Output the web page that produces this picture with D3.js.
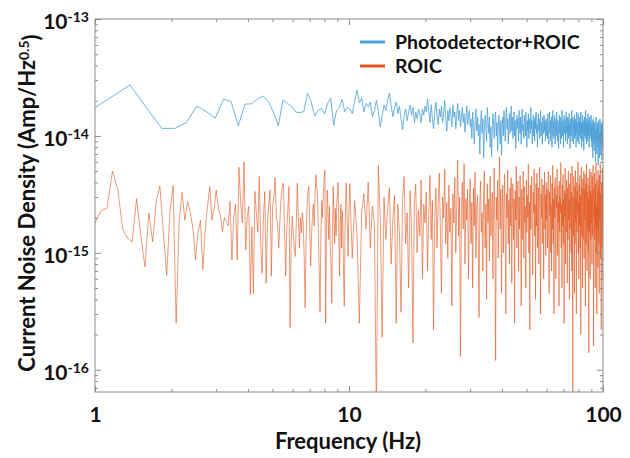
<!DOCTYPE html>
<meta charset="utf-8">
<script src="https://d3js.org/d3.v7.min.js"></script>
<style>
body { margin: 0; background: #fff; }
text { font-family: Lato, "Open Sans", sans-serif; font-weight: bold; fill: #111; }
</style>
<div id="chart"></div>
<script>
// noise density in fA/Hz^0.5 (1 fA = 1e-15 A)
// Photodetector+ROIC, FFT bins of 0.229 Hz starting at 0.916 Hz
var pdStart = 0.916, pdStep = 0.229;
var pdNoise = [
  15.4, 21.1, 27.3, 17.1, 11.6, 11.6, 13.0, 18.0, 16.1, 14.2,
  20.6, 19.7, 12.2, 18.7, 18.8, 20.5, 22.0, 19.7, 16.0, 12.2,
  20.3, 19.0, 17.8, 16.0, 15.8, 16.2, 23.2, 19.5, 14.8, 16.5,
  17.2, 15.5, 19.0, 21.0, 12.4, 16.5, 17.5, 20.6, 16.1, 17.5,
  17.0, 15.5, 20.0, 24.7, 19.2, 21.1, 16.0, 19.0, 17.7, 19.5,
  14.6, 16.5, 20.3, 16.0, 11.9, 15.0, 18.4, 16.5, 20.0, 23.3,
  18.0, 14.6, 17.5, 19.5, 15.5, 18.0, 14.0, 11.3, 15.0, 17.0,
  13.5, 16.0, 18.4, 15.0, 17.5, 13.0, 16.0, 14.0, 17.0, 15.5,
  13.0, 17.0, 15.0, 18.0, 16.0, 20.7,
  // 20 - 30 Hz
  16.5, 13.0, 18.5, 14.0, 11.5, 16.0, 19.5, 15.0, 12.5, 17.0,
  14.5, 18.0, 13.0, 15.5, 20.0, 14.0, 11.0, 16.5, 13.5, 17.5,
  15.0, 12.0, 18.5, 14.5, 16.0, 11.5, 15.0, 19.0, 13.5, 16.5,
  12.0, 14.5, 17.5, 13.0, 15.5, 10.8, 14.0, 18.0, 12.5, 15.0,
  16.5, 12.0,
  // 30 - 40 Hz
  14.0, 9.5, 16.0, 12.0, 8.5, 13.5, 17.0, 11.0, 14.5, 10.0,
  12.5, 7.0, 13.0, 16.5, 10.5, 14.0, 6.5, 11.5, 15.0, 12.0,
  9.0, 17.5, 13.0, 10.5, 14.5, 8.0, 12.0, 6.6, 11.0, 15.5,
  12.5, 9.5, 14.0, 16.0, 10.0, 13.0, 7.5, 12.0, 15.0, 11.0,
  8.5, 13.5, 6.8, 12.0,
  // 40 - 60 Hz
  14.5, 10.0, 16.5, 12.0, 9.0, 13.5, 17.5, 11.5, 14.0, 8.5,
  12.5, 15.5, 10.5, 13.0, 18.0, 11.0, 14.5, 9.5, 12.0, 16.0,
  10.0, 13.5, 7.8, 12.5, 15.0, 11.5, 14.0, 9.0, 16.5, 12.0,
  10.5, 14.5, 8.5, 13.0, 17.0, 11.0, 12.5, 9.5, 15.0, 13.0,
  10.0, 16.0, 12.0, 8.0, 13.5, 11.0, 15.5, 9.5, 14.0, 12.5,
  10.5, 17.5, 11.5, 13.5, 8.5, 12.0, 15.0, 10.0, 13.5, 9.0,
  14.5, 11.5, 16.0, 10.5, 12.5, 8.0, 13.0, 15.5, 11.0, 14.0,
  9.5, 12.0, 16.5, 10.0, 13.0, 11.5, 8.5, 14.5, 12.0, 10.5,
  15.0, 11.0, 13.5, 9.0, 12.5, 14.0, 10.0,
  // 60 - 90 Hz
  13.0, 9.5, 15.5, 11.0, 8.5, 12.5, 16.0, 10.5, 13.5, 9.0,
  11.5, 14.5, 8.0, 12.0, 16.5, 10.0, 13.0, 9.5, 15.0, 11.5,
  8.5, 12.5, 14.0, 10.0, 16.0, 11.0, 9.0, 13.5, 12.0, 7.8,
  11.5, 15.0, 10.5, 13.0, 8.5, 14.5, 11.0, 9.5, 16.5, 12.0,
  10.0, 13.5, 8.0, 12.5, 15.0, 10.5, 11.5, 14.0, 9.0, 13.0,
  16.0, 10.5, 12.0, 8.5, 14.5, 11.0, 13.5, 9.5, 15.5, 10.0,
  12.5, 7.8, 11.5, 14.0, 10.0, 13.0, 16.5, 9.0, 12.0, 14.5,
  10.5, 8.5, 13.5, 11.0, 15.0, 9.5, 12.5, 10.0, 14.0, 8.0,
  11.5, 16.0, 10.5, 13.0, 9.0, 12.0, 15.5, 11.0, 8.5, 13.5,
  10.0, 14.5, 12.0, 9.5, 16.0, 11.0, 13.0, 8.0, 12.5, 10.5,
  15.0, 9.0, 13.5, 11.5, 7.5, 12.0, 14.5, 10.0, 13.0, 9.5,
  16.5, 11.0, 12.5, 8.5, 14.0, 10.5, 13.0, 9.0, 15.5, 11.5,
  10.0, 13.5, 8.0, 12.0, 14.5, 9.5, 11.0, 13.0, 10.5, 15.0,
  9.0,
  // 90 - 100 Hz
  12.0, 8.0, 13.5, 10.0, 6.5, 11.5, 14.0, 9.0, 12.5, 7.5,
  10.5, 13.0, 8.5, 11.0, 6.0, 12.0, 14.5, 9.5, 11.5, 7.0,
  13.0, 10.0, 8.0, 12.5, 5.6, 11.0, 13.5, 9.0, 10.5, 6.5,
  12.0, 14.0, 8.5, 11.0, 7.0, 12.5, 9.5, 13.0, 6.2, 10.5,
  12.0, 8.0, 11.5, 13.5, 9.0, 10.5, 7.5
];

// ROIC alone, fine bins below 10 Hz
var roicLowStart = 1.0, roicLowStep = 0.0572;
var roicLow = [
  1.80, 2.30, 2.40, 5.0, 3.5, 1.6, 1.33, 1.24, 2.9, 1.4,
  0.76, 2.2, 1.24, 2.8, 3.74, 1.5, 0.64, 2.2, 3.74, 0.25,
  1.8, 3.3, 1.9, 2.75, 2.2, 1.6, 0.87, 1.5, 1.9, 0.72,
  1.57, 2.5, 3.7, 1.9, 2.4, 3.45, 2.4, 2.1, 1.52, 2.0,
  1.85, 1.7, 2.75, 0.87, 2.0, 2.6, 0.87, 5.4, 2.7, 1.8,
  6.0, 1.06, 2.0, 2.5, 0.44, 1.67, 0.45, 3.35, 2.2, 1.5,
  4.5, 1.2, 0.67, 2.0, 3.35, 0.55, 1.8, 2.6, 3.45, 0.63,
  2.5, 3.0, 4.4, 2.0, 1.8, 1.1, 1.9, 3.0, 3.7, 3.95,
  1.5, 0.63, 1.6, 2.4, 3.7, 0.23, 1.2, 2.05, 1.5, 1.1,
  0.93, 1.9, 3.95, 2.0, 1.1, 2.0, 1.48, 2.2, 1.8, 0.9,
  0.34, 1.3, 2.5, 3.3, 3.7, 1.6, 0.77, 1.4, 2.05, 2.6,
  1.7, 3.0, 4.65, 3.6, 3.2, 1.4, 0.7, 0.31, 1.4, 2.8,
  2.0, 3.1, 4.2, 5.1, 0.25, 1.5, 3.45, 2.2, 1.3, 2.5,
  1.1, 0.8, 0.37, 1.6, 3.7, 2.0, 1.2, 2.4, 1.4, 2.7,
  3.2, 4.0, 1.5, 0.63, 1.8, 2.6, 1.1, 2.3, 1.7, 0.6,
  0.35, 1.3, 2.5, 3.95, 2.4, 1.5, 0.93, 2.0
];

// ROIC alone, 10 - 100 Hz
var roicHighStart = 10.07, roicHighStep = 0.229;
var roicHigh = [
  3.9, 0.9, 2.8, 1.4, 0.25, 2.2, 3.2, 1.6, 4.0, 1.1,
  2.5, 1.8, 0.04, 5.6, 2.0, 0.19, 3.0, 1.3, 2.4, 3.6,
  0.8, 1.9, 3.1, 0.25, 2.6, 1.5, 0.31, 2.9, 4.5, 1.2,
  2.2, 0.5, 3.4, 1.7, 0.17, 2.7, 3.9, 1.0, 2.3, 1.4,
  4.2, 0.6, 2.6, 1.8,
  // 20 - 30 Hz
  3.3, 0.7, 2.1, 4.6, 1.3, 2.8, 0.22, 1.9, 3.6, 1.1,
  2.5, 4.8, 1.6, 0.45, 3.0, 2.0, 5.2, 1.2, 2.7, 0.9,
  3.8, 1.5, 2.4, 0.35, 3.2, 1.8, 4.4, 1.0, 2.6, 6.2,
  1.4, 3.0, 0.13, 2.2, 4.0, 1.6, 5.8, 0.8, 2.9, 1.9,
  3.5, 0.6, 2.3, 4.3,
  // 30 - 40 Hz
  1.2, 2.7, 0.5, 3.6, 1.7, 4.9, 0.9, 2.4, 3.1, 1.3,
  0.28, 2.8, 4.1, 1.5, 2.2, 0.7, 3.4, 5.0, 1.1, 2.6,
  0.4, 3.9, 1.8, 2.9, 0.85, 4.5, 1.4, 2.1, 3.3, 0.6,
  2.5, 5.3, 1.2, 0.12, 3.0, 1.9, 4.2, 0.9, 2.7, 6.6,
  1.6, 3.5, 0.45, 2.3,
  // 40 - 60 Hz
  3.8, 1.0, 2.6, 4.7, 1.4, 0.3, 3.2, 2.0, 5.1, 1.2,
  2.8, 0.8, 3.6, 1.7, 4.4, 0.55, 2.4, 3.9, 1.3, 2.9,
  0.25, 3.4, 1.9, 5.5, 1.1, 2.6, 4.1, 0.7, 3.0, 1.6,
  4.6, 2.2, 0.35, 3.5, 1.3, 2.8, 5.0, 0.9, 3.7, 1.8,
  2.5, 0.5, 4.2, 1.5, 3.1, 2.0, 5.7, 1.0, 2.7, 0.22,
  3.8, 1.6, 2.9, 4.5, 1.2, 0.65, 3.3, 2.2, 5.2, 1.4,
  2.6, 0.4, 3.9, 1.7, 4.8, 1.1, 2.3, 3.6, 0.8, 2.9,
  5.4, 1.5, 0.3, 3.2, 2.0, 4.3, 1.2, 2.7, 3.8, 0.6,
  2.4, 4.9, 1.6, 3.1, 0.95, 4.0, 1.9,
  // 60 - 90 Hz
  3.5, 1.1, 2.8, 5.0, 1.4, 0.45, 3.3, 2.1, 4.6, 1.0,
  2.6, 0.7, 3.9, 1.6, 5.6, 1.2, 2.9, 0.3, 3.6, 2.0,
  4.4, 1.3, 0.6, 3.1, 2.4, 5.2, 0.95, 3.7, 1.8, 2.7,
  0.35, 4.1, 1.5, 3.0, 2.2, 5.9, 1.1, 2.6, 0.5, 3.8,
  1.7, 4.7, 1.2, 2.9, 0.25, 3.4, 2.0, 5.3, 0.8, 3.2,
  1.5, 4.2, 2.3, 0.55, 3.6, 1.3, 5.0, 1.9, 2.8, 0.4,
  3.9, 1.6, 2.5, 4.8, 1.0, 3.3, 0.7, 5.5, 2.1, 0.04,
  3.0, 1.4, 4.5, 2.6, 0.45, 3.7, 1.2, 5.1, 1.8, 2.9,
  0.3, 4.0, 1.5, 3.4, 2.2, 6.0, 1.0, 2.7, 0.6, 3.8,
  1.7, 4.6, 1.1, 3.1, 0.2, 2.5, 5.4, 1.4, 3.6, 2.0,
  0.5, 4.3, 1.3, 2.8, 5.0, 0.9, 3.5, 1.9, 4.7, 0.35,
  2.6, 3.9, 1.2, 5.7, 2.2, 0.7, 3.3, 1.6, 4.4, 1.0,
  2.9, 0.14, 3.8, 1.5, 5.2, 2.1, 0.6, 3.4, 1.3, 4.9,
  1.8,
  // 90 - 100 Hz
  3.1, 0.8, 4.5, 1.4, 2.7, 5.6, 1.1, 0.16, 3.6, 2.0,
  4.8, 1.3, 2.9, 0.5, 3.9, 1.7, 5.9, 1.0, 2.5, 0.3,
  4.2, 1.6, 3.3, 0.75, 5.1, 2.2, 1.2, 3.7, 0.45, 4.6,
  1.9, 2.8, 5.8, 0.9, 3.2, 1.5, 0.22, 4.0, 2.4, 1.1,
  5.3, 1.8, 3.5, 0.6, 4.4, 2.1
];

var seriesNames = ["Photodetector+ROIC", "ROIC"];
var seriesColors = ["#4a9fd8", "#e0561e"];
var xMajor = [1, 10, 100];
var yMajorExp = [-13, -14, -15, -16];

var width = 630, height = 458;
var plot = {left: 95, right: 603, top: 19, bottom: 392};

var svg = d3.select("#chart").append("svg")
  .attr("width", width)
  .attr("height", height);

var x = d3.scaleLog().domain([1, 100]).range([plot.left, plot.right]);
var y = d3.scaleLog().domain([6.45e-17, 1e-13]).range([plot.bottom, plot.top]);

var fA = 1e-15;
var pdPoints = pdNoise.map(function(v, i) { return {f: pdStart + i * pdStep, v: v * fA}; });
var roicPoints = roicLow.map(function(v, i) { return {f: roicLowStart + i * roicLowStep, v: v * fA}; })
  .concat(roicHigh.map(function(v, i) { return {f: roicHighStart + i * roicHighStep, v: v * fA}; }));

svg.append("clipPath").attr("id", "clip")
  .append("rect")
    .attr("x", plot.left).attr("y", plot.top)
    .attr("width", plot.right - plot.left).attr("height", plot.bottom - plot.top);

var line = d3.line()
  .x(function(d) { return x(d.f); })
  .y(function(d) { return y(d.v); });

var lines = svg.append("g").attr("clip-path", "url(#clip)");
lines.append("path").datum(pdPoints)
  .attr("d", line).attr("fill", "none")
  .attr("stroke", seriesColors[0]).attr("stroke-width", 0.8);
lines.append("path").datum(roicPoints)
  .attr("d", line).attr("fill", "none")
  .attr("stroke", seriesColors[1]).attr("stroke-width", 0.6);

// minor ticks
var xMinor = x.ticks().filter(function(t) { return xMajor.indexOf(t) < 0; });
var yMinor = y.ticks().filter(function(t) {
  var m = t / Math.pow(10, Math.floor(Math.log10(t) + 1e-9));
  return Math.abs(m - 1) > 1e-6;
});
var yMajor = yMajorExp.map(function(e) { return Math.pow(10, e); });

function styleAxis(g) {
  g.select(".domain").remove();
  g.selectAll(".tick line").attr("stroke", "#8c8c8c");
}

svg.append("g").attr("transform", "translate(" + plot.left + ",0)")
  .call(d3.axisLeft(y).tickValues(yMinor).tickSize(-3).tickFormat("")).call(styleAxis);
svg.append("g").attr("transform", "translate(" + plot.right + ",0)")
  .call(d3.axisRight(y).tickValues(yMinor).tickSize(-3).tickFormat("")).call(styleAxis);
svg.append("g").attr("transform", "translate(" + plot.right + ",0)")
  .call(d3.axisRight(y).tickValues(yMajor).tickSize(-6).tickFormat("")).call(styleAxis);
svg.append("g").attr("transform", "translate(0," + plot.bottom + ")")
  .call(d3.axisBottom(x).tickValues(xMinor).tickSize(-3).tickFormat("")).call(styleAxis);
svg.append("g").attr("transform", "translate(0," + plot.top + ")")
  .call(d3.axisTop(x).tickValues(xMinor).tickSize(-3).tickFormat("")).call(styleAxis);
svg.append("g").attr("transform", "translate(0," + plot.top + ")")
  .call(d3.axisTop(x).tickValues(xMajor).tickSize(-6).tickFormat("")).call(styleAxis);

// left axis, major ticks with 10^n labels
var yAxis = svg.append("g").attr("transform", "translate(" + plot.left + ",0)")
  .call(d3.axisLeft(y).tickValues(yMajor).tickSize(-6).tickPadding(7))
  .call(styleAxis);
yAxis.selectAll(".tick text").each(function(d, i) {
  var t = d3.select(this).text(null)
    .attr("text-anchor", "end").attr("x", -6).attr("dy", "0.45em")
    .style("font-size", "21px").attr("fill", "#111");
  t.append("tspan").text("10");
  t.append("tspan").text(yMajorExp[i]).attr("dy", "-0.5em").style("font-size", "14px");
});

// bottom axis, major ticks
svg.append("g").attr("transform", "translate(0," + plot.bottom + ")")
  .call(d3.axisBottom(x).tickValues(xMajor).tickSize(-6).tickPadding(15)
    .tickFormat(d3.format("d")))
  .call(styleAxis)
  .selectAll(".tick text").style("font-size", "21px").attr("fill", "#111");

// frame
svg.append("rect")
  .attr("x", plot.left).attr("y", plot.top)
  .attr("width", plot.right - plot.left).attr("height", plot.bottom - plot.top)
  .attr("fill", "none").attr("stroke", "#8c8c8c").attr("stroke-width", 1);

// axis titles
svg.append("text")
  .attr("x", 348).attr("y", 449)
  .attr("text-anchor", "middle")
  .style("font-size", "22px")
  .text("Frequency (Hz)");

var yTitle = svg.append("text")
  .attr("transform", "translate(35,203) rotate(-90)")
  .attr("text-anchor", "middle")
  .style("font-size", "22px");
yTitle.append("tspan").text("Current Noise Density (Amp/Hz");
yTitle.append("tspan").text("0.5").attr("dy", "-0.45em").style("font-size", "14px");
yTitle.append("tspan").text(")").attr("dy", "0.45em");

// legend
var legend = svg.selectAll(".legend")
  .data(seriesNames)
  .enter().append("g")
    .attr("transform", function(d, i) { return "translate(360," + (42 + i * 24) + ")"; });
legend.append("line")
  .attr("x1", 0).attr("x2", 25).attr("y1", 0).attr("y2", 0)
  .attr("stroke", function(d, i) { return seriesColors[i]; })
  .attr("stroke-width", 3);
legend.append("text")
  .attr("x", 35).attr("y", 7)
  .style("font-size", "19.5px")
  .text(function(d) { return d; });
</script>
